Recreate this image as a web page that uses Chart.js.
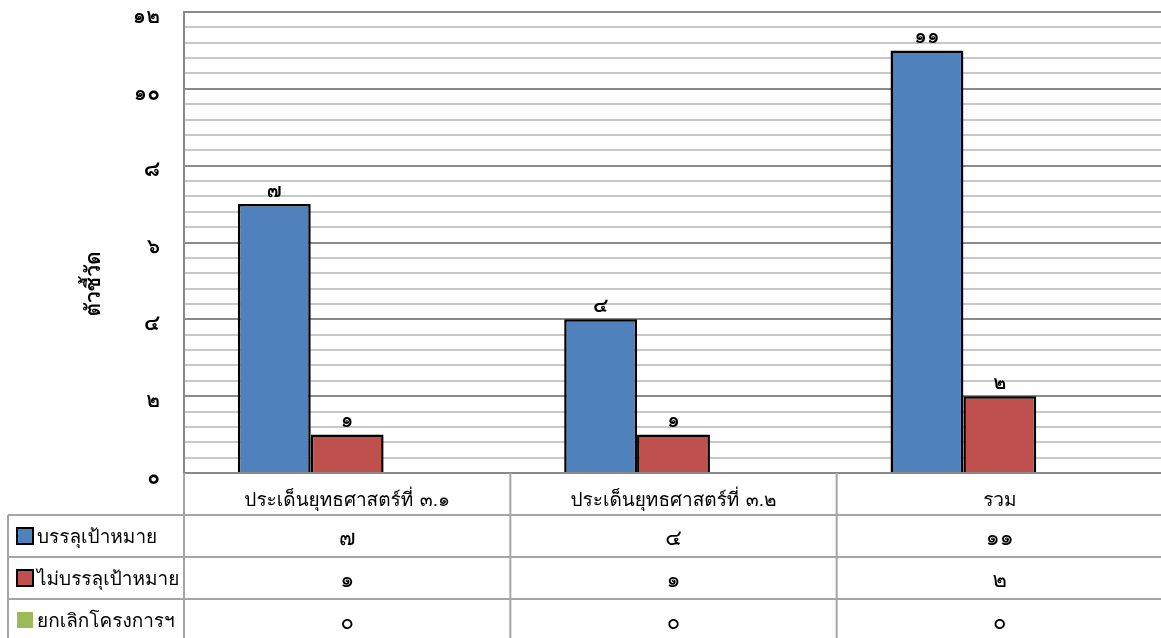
<!DOCTYPE html>
<html><head><meta charset="utf-8">
<script src="https://cdn.jsdelivr.net/npm/chart.js@4.4.1/dist/chart.umd.min.js"></script>
<style>html,body{margin:0;padding:0;overflow:hidden;background:#fff}#wrap{position:relative;width:1166px;height:638px}</style>
</head><body><div id="wrap"><canvas id="c"></canvas></div>
<script>
const categories = ['ประเด็นยุทธศาสตร์ที่ ๓.๑', 'ประเด็นยุทธศาสตร์ที่ ๓.๒', 'รวม'];
const seriesNames = ['บรรลุเป้าหมาย', 'ไม่บรรลุเป้าหมาย', 'ยกเลิกโครงการฯ'];
const achieved = [7, 4, 11];
const notAchieved = [1, 1, 2];
const cancelled = [0, 0, 0];
const yTickLabels = ['๐', '๒', '๔', '๖', '๘', '๑๐', '๑๒'];
const yAxisTitle = 'ตัวชี้วัด';

const FONT = "Loma, Tahoma, 'Noto Sans Thai Looped', 'Noto Sans Thai', sans-serif";
const thaiDigits = '๐๑๒๓๔๕๖๗๘๙';
const toThai = n => String(n).replace(/[0-9]/g, d => thaiDigits[+d]);

const dataLabels = {
  id: 'dataLabels',
  afterDatasetsDraw(chart) {
    const ctx = chart.ctx;
    ctx.save();
    ctx.font = 'bold 20px ' + FONT;
    ctx.fillStyle = '#000';
    ctx.textAlign = 'center';
    ctx.textBaseline = 'bottom';
    chart.data.datasets.forEach((ds, di) => {
      const meta = chart.getDatasetMeta(di);
      meta.data.forEach((bar, i) => {
        const v = ds.data[i];
        if (v > 0) ctx.fillText(toThai(v), bar.x, bar.y - 2);
      });
    });
    ctx.restore();
  }
};

const yTitle = {
  id: 'yTitle',
  afterDraw(chart) {
    const ctx = chart.ctx;
    ctx.save();
    ctx.translate(95, 284);
    ctx.rotate(-Math.PI / 2);
    ctx.font = 'bold 21px ' + FONT;
    ctx.fillStyle = '#000';
    ctx.textAlign = 'center';
    ctx.textBaseline = 'middle';
    ctx.fillText(yAxisTitle, 0, 0);
    ctx.restore();
  }
};

const dataTable = {
  id: 'dataTable',
  afterDraw(chart) {
    const ctx = chart.ctx;
    const a = chart.chartArea;
    const x = chart.scales.x;
    const rowH = 42;
    const top = a.bottom;
    const leftX = 8;
    const catW = x.getPixelForValue(1) - x.getPixelForValue(0);
    const H = chart.height;
    ctx.save();
    ctx.strokeStyle = '#a5a5a5';
    ctx.lineWidth = 2;
    const line = (x1, y1, x2, y2) => { ctx.beginPath(); ctx.moveTo(x1, y1); ctx.lineTo(x2, y2); ctx.stroke(); };
    for (let r = 1; r <= 3; r++) line(leftX, top + r * rowH, chart.width, top + r * rowH);
    line(a.left, top, a.left, H);
    line(leftX, top + rowH, leftX, H);
    for (let i = 1; i < categories.length; i++) {
      const bx = x.getPixelForValue(i) - catW / 2;
      line(bx, top, bx, H);
    }
    chart.data.datasets.forEach((ds, di) => {
      const cy = top + rowH * (di + 1) + rowH / 2;
      ctx.fillStyle = ds.backgroundColor;
      ctx.fillRect(17, cy - 8, 16, 16);
      if (ds.borderWidth > 0) {
        ctx.strokeStyle = '#000';
        ctx.lineWidth = 2;
        ctx.strokeRect(17, cy - 8, 16, 16);
      }
      ctx.fillStyle = '#000';
      ctx.font = '19px ' + FONT;
      ctx.textAlign = 'left';
      ctx.textBaseline = 'middle';
      ctx.fillText(ds.label, 37, cy + 3);
      ctx.font = '22px ' + FONT;
      ctx.textAlign = 'center';
      ds.data.forEach((v, i) => {
        ctx.fillText(toThai(v), x.getPixelForValue(i), cy + 4);
      });
    });
    ctx.restore();
  }
};

new Chart(document.getElementById('c'), {
  type: 'bar',
  data: {
    labels: categories,
    datasets: [
      { label: seriesNames[0], data: achieved, backgroundColor: '#4F81BD', borderColor: '#000', borderWidth: 2.5 },
      { label: seriesNames[1], data: notAchieved, backgroundColor: '#C0504D', borderColor: '#000', borderWidth: 2.5 },
      { label: seriesNames[2], data: cancelled, backgroundColor: '#9BBB59', borderColor: '#000', borderWidth: 0 }
    ]
  },
  options: {
    responsive: true,
    maintainAspectRatio: false,
    animation: false,
    devicePixelRatio: 1,
    layout: { padding: { top: 12, right: 3, left: 0, bottom: 0 } },
    datasets: { bar: { categoryPercentage: 0.67, barPercentage: 1 } },
    plugins: { legend: { display: false }, tooltip: { enabled: false } },
    scales: {
      x: {
        grid: { display: false },
        border: { display: false },
        ticks: { color: '#000', font: { family: FONT, size: 19 }, padding: 9, maxRotation: 0, autoSkip: false },
        afterFit(s) { s.height = 165; s.paddingLeft = 0; s.paddingRight = 0; }
      },
      y: {
        min: 0, max: 12,
        ticks: {
          stepSize: 0.4, autoSkip: false, color: '#000', padding: 24,
          font: { family: FONT, size: 21, weight: 'bold', lineHeight: '12px' },
          callback(v) {
            const k = v / 2;
            return Math.abs(k - Math.round(k)) < 1e-6 ? ['', yTickLabels[Math.round(k)]] : '';
          }
        },
        grid: {
          drawTicks: false,
          lineWidth: 2,
          color(c) {
            const k = c.tick.value / 2;
            return Math.abs(k - Math.round(k)) < 1e-6 ? '#8a8a8a' : '#c8c8c8';
          }
        },
        border: { color: '#8a8a8a', width: 2 },
        title: { display: false },
        afterFit(s) { s.width = 184; s.paddingTop = 0; s.paddingBottom = 0; }
      }
    }
  },
  plugins: [dataLabels, yTitle, dataTable]
});
</script></body></html>
